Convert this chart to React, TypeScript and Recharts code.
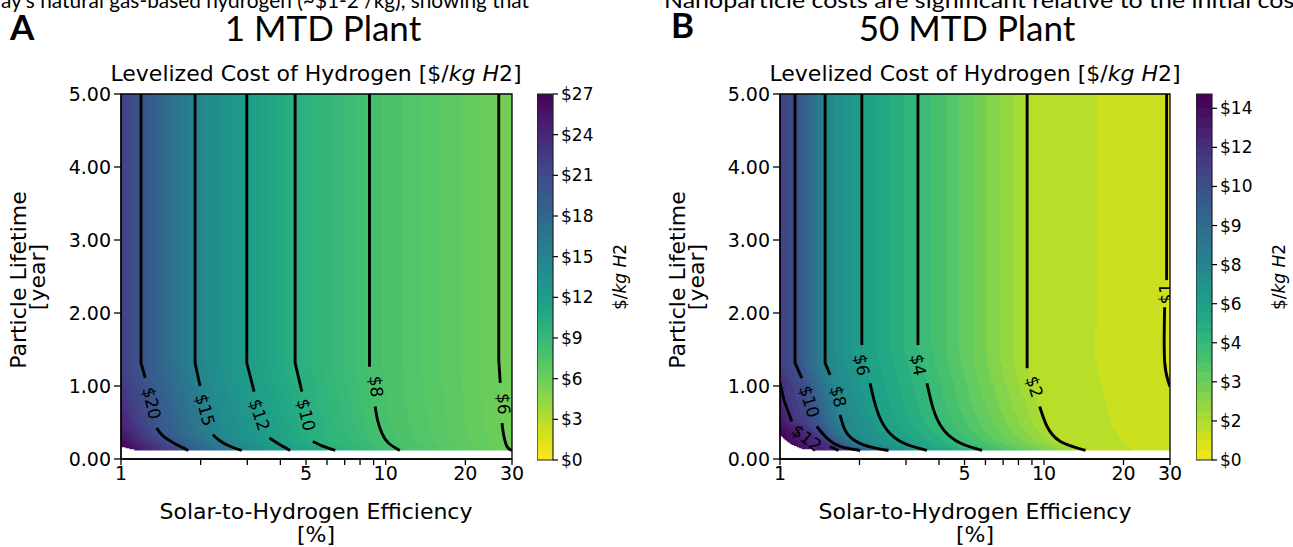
import React from 'react';
import { ComposedChart, XAxis, YAxis, Line, Scatter, ReferenceArea } from 'recharts';

type Pt = { x: number; y: number };
type Contour = { level: number; upper: Pt[]; lower: Pt[] };
type EdgePt = { y: number; v: number };
type ContourLabel = { x: number; y: number; level: number; angle: number };

// shared axes
const xTicks = [1, 2, 3, 4, 5, 6, 7, 8, 9, 10, 20, 30];
const xTickLabels = [1, 5, 10, 20, 30];
const yTicks = [0, 1, 2, 3, 4, 5];

// ---------- panel A : 1 MTD plant ----------
const colorbarTicksA = [0, 3, 6, 9, 12, 15, 18, 21, 24, 27];

const contoursA: Contour[] = [
  { level: 20, upper: [{ x: 1.19, y: 5 }, { x: 1.19, y: 1.316 }, { x: 1.235, y: 1.11 }],
    lower: [{ x: 1.364, y: 0.424 }, { x: 1.425, y: 0.332 }, { x: 1.51, y: 0.264 }, { x: 1.624, y: 0.195 }, { x: 1.797, y: 0.117 }] },
  { level: 15, upper: [{ x: 1.905, y: 5 }, { x: 1.905, y: 1.316 }, { x: 1.989, y: 1.0 }],
    lower: [{ x: 2.222, y: 0.332 }, { x: 2.333, y: 0.264 }, { x: 2.436, y: 0.219 }, { x: 2.62, y: 0.164 }, { x: 2.859, y: 0.117 }] },
  { level: 12, upper: [{ x: 2.987, y: 5 }, { x: 2.987, y: 1.316 }, { x: 3.183, y: 0.923 }],
    lower: [{ x: 3.637, y: 0.287 }, { x: 3.932, y: 0.209 }, { x: 4.355, y: 0.117 }] },
  { level: 10, upper: [{ x: 4.548, y: 5 }, { x: 4.548, y: 1.316 }, { x: 4.822, y: 0.923 }],
    lower: [{ x: 5.306, y: 0.24 }, { x: 5.82, y: 0.172 }, { x: 6.445, y: 0.117 }] },
  { level: 8, upper: [{ x: 8.685, y: 5 }, { x: 8.685, y: 1.265 }],
    lower: [{ x: 9.127, y: 0.719 }, { x: 9.31, y: 0.537 }, { x: 9.674, y: 0.355 }, { x: 10.24, y: 0.219 }, { x: 11.3, y: 0.117 }] },
  { level: 6, upper: [{ x: 26.74, y: 5 }, { x: 26.74, y: 1.356 }, { x: 27.09, y: 1.042 }],
    lower: [{ x: 27.5, y: 0.492 }, { x: 27.89, y: 0.332 }, { x: 28.72, y: 0.172 }, { x: 30, y: 0.117 }] },
];

const labelsA: ContourLabel[] = [
  { x: 1.306, y: 0.765, level: 20, angle: 77 },
  { x: 2.078, y: 0.673, level: 15, angle: 75 },
  { x: 3.334, y: 0.605, level: 12, angle: 72 },
  { x: 5.006, y: 0.605, level: 10, angle: 77 },
  { x: 9.207, y: 0.992, level: 8, angle: 85 },
  { x: 27.89, y: 0.755, level: 6, angle: 88 },
];

const leftEdgeA: EdgePt[] = [
  { y: 0.17, v: 27 }, { y: 0.26, v: 26 }, { y: 0.42, v: 24.8 }, { y: 0.8, v: 23 }, { y: 1.3, v: 22 }, { y: 5, v: 22 },
];
const rightEdgeA: EdgePt[] = [{ y: 0.117, v: 5.97 }, { y: 5, v: 5.85 }];
const bottomEdgeA: Pt[] = [{ x: 1, y: 0.172 }, { x: 1.081, y: 0.137 }, { x: 1.147, y: 0.117 }, { x: 30, y: 0.117 }];

// ---------- panel B : 50 MTD plant ----------
const colorbarLevelsB = [0, 2, 3, 4, 6, 8, 9, 10, 12, 14];
const colorbarTopB = 9.366;

const contoursB: Contour[] = [
  { level: 12, upper: [{ x: 1, y: 1.046 }, { x: 1.035, y: 0.81 }, { x: 1.108, y: 0.514 }],
    lower: [{ x: 1.548, y: 0.172 }, { x: 1.664, y: 0.117 }] },
  { level: 10, upper: [{ x: 1.14, y: 5 }, { x: 1.14, y: 1.316 }, { x: 1.209, y: 1.107 }],
    lower: [{ x: 1.378, y: 0.445 }, { x: 1.504, y: 0.287 }, { x: 1.689, y: 0.172 }, { x: 2.012, y: 0.117 }] },
  { level: 8, upper: [{ x: 1.482, y: 5 }, { x: 1.482, y: 1.316 }, { x: 1.548, y: 1.152 }],
    lower: [{ x: 1.689, y: 0.605 }, { x: 1.791, y: 0.355 }, { x: 2.07, y: 0.195 }, { x: 2.576, y: 0.117 }] },
  { level: 6, upper: [{ x: 2.042, y: 5 }, { x: 2.042, y: 1.561 }],
    lower: [{ x: 2.194, y: 1.038 }, { x: 2.327, y: 0.673 }, { x: 2.54, y: 0.4 }, { x: 2.937, y: 0.219 }, { x: 3.602, y: 0.117 }] },
  { level: 4, upper: [{ x: 3.33, y: 5 }, { x: 3.33, y: 1.561 }],
    lower: [{ x: 3.602, y: 1.038 }, { x: 3.816, y: 0.673 }, { x: 4.165, y: 0.4 }, { x: 4.818, y: 0.219 }, { x: 5.824, y: 0.117 }] },
  { level: 2, upper: [{ x: 8.63, y: 5 }, { x: 8.63, y: 1.243 }],
    lower: [{ x: 9.63, y: 0.719 }, { x: 10.27, y: 0.445 }, { x: 11.54, y: 0.24 }, { x: 14.36, y: 0.117 }] },
  { level: 1, upper: [{ x: 29.13, y: 5 }, { x: 29.13, y: 2.45 }],
    lower: [{ x: 28.63, y: 2.08 }, { x: 28.63, y: 1.33 }, { x: 30, y: 0.99 }] },
];

const labelsB: ContourLabel[] = [
  { x: 1.263, y: 0.287, level: 12, angle: 38 },
  { x: 1.292, y: 0.787, level: 10, angle: 73 },
  { x: 1.664, y: 0.855, level: 8, angle: 76 },
  { x: 2.042, y: 1.288, level: 6, angle: 80 },
  { x: 3.347, y: 1.288, level: 4, angle: 80 },
  { x: 9.2, y: 0.99, level: 2, angle: 72 },
  { x: 29.0, y: 2.265, level: 1, angle: -90 },
];

const leftEdgeB: EdgePt[] = [
  { y: 0.33, v: 14.5 }, { y: 0.5, v: 13.5 }, { y: 0.8, v: 12.6 }, { y: 1.05, v: 12 }, { y: 1.3, v: 11.1 }, { y: 5, v: 11 },
];
const rightEdgeB: EdgePt[] = [
  { y: 0.117, v: 1.12 }, { y: 0.5, v: 1.06 }, { y: 1.0, v: 1.0 }, { y: 1.3, v: 0.97 }, { y: 5, v: 0.97 },
];
const bottomEdgeB: Pt[] = [
  { x: 1, y: 0.33 }, { x: 1.048, y: 0.26 }, { x: 1.104, y: 0.2 }, { x: 1.22, y: 0.133 }, { x: 1.42, y: 0.117 }, { x: 30, y: 0.117 },
];

// ---------- colour helpers ----------
const VIRIDIS = [
  '#440154', '#471365', '#482475', '#463480', '#414487', '#3b528b', '#355f8d', '#2f6c8e', '#2a788e', '#25848e',
  '#21918c', '#1e9c89', '#22a884', '#2fb47c', '#44bf70', '#5ec962', '#7ad151', '#9bd93c', '#bddf26', '#dfe318', '#fde725',
];
const hexRgb = (h: string) => [1, 3, 5].map((i) => parseInt(h.slice(i, i + 2), 16));
function viridis(t: number) {
  const c = Math.max(0, Math.min(1, t)) * (VIRIDIS.length - 1);
  const i = Math.min(Math.floor(c), VIRIDIS.length - 2);
  const f = c - i;
  const a = hexRgb(VIRIDIS[i]);
  const b = hexRgb(VIRIDIS[i + 1]);
  const m = a.map((v, k) => Math.round(v + (b[k] - v) * f));
  return `rgb(${m[0]},${m[1]},${m[2]})`;
}

const STEP_A = 0.3;
const colorA = (v: number) => {
  const k = Math.floor(Math.max(0, v) / STEP_A);
  return viridis(1 - ((k + 0.5) * STEP_A) / 27);
};

const STEP_B = 0.25;
function idxB(v: number) {
  const lv = colorbarLevelsB;
  if (v <= 0) return 0;
  if (v >= lv[lv.length - 1]) return lv.length - 1 + (v - lv[lv.length - 1]) / 2;
  for (let i = 0; i < lv.length - 1; i++) {
    if (v >= lv[i] && v < lv[i + 1]) return i + (v - lv[i]) / (lv[i + 1] - lv[i]);
  }
  return 0;
}
const colorB = (v: number) => {
  const k = Math.max(0, Math.ceil(idxB(v) / STEP_B) - 1);
  return viridis(1 - ((k + 1) * STEP_B) / colorbarTopB);
};

// ---------- field built from the contour lines ----------
const L30 = Math.log10(30);

function edgeAt(edge: EdgePt[], y: number) {
  if (y <= edge[0].y) return edge[0].v;
  for (let i = 0; i < edge.length - 1; i++) {
    const a = edge[i];
    const b = edge[i + 1];
    if (y >= a.y && y <= b.y) return a.v + ((b.v - a.v) * (y - a.y)) / (b.y - a.y);
  }
  return edge[edge.length - 1].v;
}

function crossing(c: Contour, y: number): number | null {
  const pts = [...c.upper, ...c.lower];
  for (let i = 0; i < pts.length - 1; i++) {
    const a = pts[i];
    const b = pts[i + 1];
    const lo = Math.min(a.y, b.y);
    const hi = Math.max(a.y, b.y);
    if (hi > lo && y >= lo && y <= hi) {
      const t = (y - a.y) / (b.y - a.y);
      return Math.log10(a.x) + (Math.log10(b.x) - Math.log10(a.x)) * t;
    }
  }
  return null;
}

type PanelSpec = {
  id: string;
  contours: Contour[];
  labels: ContourLabel[];
  left: EdgePt[];
  right: EdgePt[];
  bottom: Pt[];
  color: (v: number) => string;
  width: number;
  marginRight: number;
};

function valueAt(p: PanelSpec, l: number, y: number) {
  const anchors: { l: number; v: number }[] = [{ l: 0, v: edgeAt(p.left, y) }];
  p.contours.forEach((c) => {
    const cl = crossing(c, y);
    if (cl !== null && cl > 1e-4 && cl < L30 - 1e-4) anchors.push({ l: cl, v: c.level });
  });
  anchors.push({ l: L30, v: edgeAt(p.right, y) });
  anchors.sort((a, b) => a.l - b.l);
  for (let i = 0; i < anchors.length - 1; i++) {
    const a = anchors[i];
    const b = anchors[i + 1];
    if (l >= a.l && l <= b.l) return b.l > a.l ? a.v + ((b.v - a.v) * (l - a.l)) / (b.l - a.l) : a.v;
  }
  return anchors[anchors.length - 1].v;
}

function startLog(bottom: Pt[], y: number) {
  if (y >= bottom[0].y) return 0;
  for (let i = 0; i < bottom.length - 1; i++) {
    const a = bottom[i];
    const b = bottom[i + 1];
    if (y <= a.y && y >= b.y) {
      const t = a.y === b.y ? 0 : (a.y - y) / (a.y - b.y);
      return Math.log10(a.x) + (Math.log10(b.x) - Math.log10(a.x)) * t;
    }
  }
  return Math.log10(bottom[bottom.length - 1].x);
}

type Stop = { o: number; c: string };
type Row = { id: string; x1: number; y1: number; y2: number; stops: Stop[] };

function buildRows(p: PanelSpec): Row[] {
  const rows: Row[] = [];
  let y = p.bottom[p.bottom.length - 1].y;
  let n = 0;
  while (y < 5 - 1e-6) {
    const step = y < 0.5 ? 0.015 : 0.04;
    const top = y < 1.75 ? y + step : 5;
    const yc = top === 5 ? 3.5 : (y + top) / 2;
    const ls = startLog(p.bottom, yc);
    const N = 300;
    const stops: Stop[] = [];
    let prev = '';
    for (let i = 0; i <= N; i++) {
      const l = ls + ((L30 - ls) * i) / N;
      const c = p.color(valueAt(p, l, yc));
      if (i === 0) stops.push({ o: 0, c });
      else if (c !== prev) {
        const o = (i - 0.5) / N;
        stops.push({ o, c: prev }, { o, c });
      }
      prev = c;
    }
    stops.push({ o: 1, c: prev });
    rows.push({ id: `${p.id}-row${n}`, x1: Math.pow(10, ls), y1: y, y2: Math.min(5, top + 0.012), stops });
    y = top;
    n += 1;
  }
  return rows;
}

const panelA: PanelSpec = {
  id: 'pa', contours: contoursA, labels: labelsA, left: leftEdgeA, right: rightEdgeA, bottom: bottomEdgeA,
  color: colorA, width: 640, marginRight: 128,
};
const panelB: PanelSpec = {
  id: 'pb', contours: contoursB, labels: labelsB, left: leftEdgeB, right: rightEdgeB, bottom: bottomEdgeB,
  color: colorB, width: 634, marginRight: 123,
};

const FONT = 'DejaVu Sans, sans-serif';
const tickStyle = { fill: '#000', fontSize: 19, fontFamily: FONT };

const renderContourLabel = (props: any) => {
  const { cx, cy, payload } = props;
  if (cx == null || cy == null) return <g />;
  return (
    <text
      x={cx}
      y={cy}
      transform={`rotate(${payload.angle} ${cx} ${cy})`}
      textAnchor="middle"
      dominantBaseline="central"
      fontSize={17}
      fontFamily={FONT}
      fill="#000"
    >
      {`$${payload.level}`}
    </text>
  );
};

function Panel({ p }: { p: PanelSpec }) {
  const rows = buildRows(p);
  return (
    <ComposedChart width={p.width} height={547} margin={{ top: 94, right: p.marginRight, left: 0, bottom: 0 }}>
      <defs>
        {rows.map((r) => (
          <linearGradient key={r.id} id={r.id} x1="0" y1="0" x2="1" y2="0">
            {r.stops.map((s, i) => (
              <stop key={i} offset={s.o} stopColor={s.c} />
            ))}
          </linearGradient>
        ))}
      </defs>
      <XAxis
        dataKey="x"
        type="number"
        scale="log"
        domain={[1, 30]}
        allowDataOverflow
        ticks={xTicks}
        interval={0}
        tickFormatter={(v: number) => (xTickLabels.includes(v) ? String(v) : '')}
        height={88}
        tickSize={6}
        tickMargin={2}
        tick={tickStyle}
        tickLine={{ stroke: '#000', strokeWidth: 1.3 }}
        axisLine={{ stroke: '#000', strokeWidth: 1.3 }}
      />
      <YAxis
        dataKey="y"
        type="number"
        domain={[0, 5]}
        allowDataOverflow
        ticks={yTicks}
        interval={0}
        width={121}
        tickFormatter={(v: number) => v.toFixed(2)}
        tickSize={7}
        tickMargin={3}
        tick={tickStyle}
        tickLine={{ stroke: '#000', strokeWidth: 1.3 }}
        axisLine={{ stroke: '#000', strokeWidth: 1.3 }}
      />
      {rows.map((r) => (
        <ReferenceArea
          key={r.id}
          x1={r.x1}
          x2={30}
          y1={r.y1}
          y2={r.y2}
          fill={`url(#${r.id})`}
          fillOpacity={1}
          stroke="none"
        />
      ))}
      <ReferenceArea x1={1} x2={30} y1={0} y2={5} fill="none" fillOpacity={0} stroke="#000" strokeWidth={1.3} />
      {p.contours.flatMap((c) =>
        [c.upper, c.lower].map((seg, i) => (
          <Line
            key={`${p.id}-${c.level}-${i}`}
            data={seg}
            dataKey="y"
            type={i === 0 ? 'linear' : 'natural'}
            stroke="#000"
            strokeWidth={2.9}
            dot={false}
            activeDot={false}
            isAnimationActive={false}
          />
        )),
      )}
      <Scatter data={p.labels} dataKey="y" shape={renderContourLabel} isAnimationActive={false} />
    </ComposedChart>
  );
}

type Band = { from: number; to: number; c: string };

function bandsA(): Band[] {
  const out: Band[] = [];
  for (let k = 0; k * STEP_A < 27 - 1e-9; k++) {
    out.push({ from: k * STEP_A, to: Math.min(27, (k + 1) * STEP_A), c: viridis(1 - ((k + 0.5) * STEP_A) / 27) });
  }
  return out;
}
function bandsB(): Band[] {
  const out: Band[] = [];
  for (let k = 0; k * STEP_B < colorbarTopB - 1e-9; k++) {
    out.push({
      from: k * STEP_B,
      to: Math.min(colorbarTopB, (k + 1) * STEP_B),
      c: viridis(1 - ((k + 1) * STEP_B) / colorbarTopB),
    });
  }
  return out;
}

function ColorBar({ id, max, ticks, fmt, bands }: { id: string; max: number; ticks: number[]; fmt: (v: number) => string; bands: Band[] }) {
  return (
    <ComposedChart
      width={96}
      height={547}
      margin={{ top: 94, right: 0, left: 0, bottom: 87 }}
      data={ticks.map((t) => ({ x: 0.5, y: t }))}
    >
      <defs>
        <linearGradient id={id} x1="0" y1="1" x2="0" y2="0">
          {bands.flatMap((b, i) => [
            <stop key={`${i}a`} offset={b.from / max} stopColor={b.c} />,
            <stop key={`${i}b`} offset={b.to / max} stopColor={b.c} />,
          ])}
        </linearGradient>
      </defs>
      <XAxis dataKey="x" type="number" domain={[0, 1]} hide height={0} />
      <YAxis
        dataKey="y"
        type="number"
        orientation="right"
        domain={[0, max]}
        allowDataOverflow
        ticks={ticks}
        interval={0}
        width={80}
        tickFormatter={fmt}
        axisLine={false}
        tickSize={5}
        tickMargin={3}
        tick={{ fill: '#000', fontSize: 17, fontFamily: FONT }}
        tickLine={{ stroke: '#000', strokeWidth: 1.2 }}
      />
      <ReferenceArea x1={0} x2={1} y1={0} y2={max} fill={`url(#${id})`} fillOpacity={1} stroke="none" />
      <ReferenceArea x1={0} x2={1} y1={0} y2={max} fill="none" fillOpacity={0} stroke="#222" strokeWidth={1.2} />
    </ComposedChart>
  );
}

const abs = (left: number): React.CSSProperties => ({ position: 'absolute', left, top: 0 });

export default function App() {
  return (
    <div style={{ position: 'absolute', left: 0, top: 0, width: 1293, height: 547, background: '#fff', overflow: 'hidden' }}>
      <div style={abs(0)}>
        <Panel p={panelA} />
      </div>
      <div style={abs(659)}>
        <Panel p={panelB} />
      </div>
      <div style={abs(537)}>
        <ColorBar id="cbA" max={27} ticks={colorbarTicksA} fmt={(v) => `$${v}`} bands={bandsA()} />
      </div>
      <div style={abs(1196)}>
        <ColorBar
          id="cbB"
          max={colorbarTopB}
          ticks={colorbarLevelsB.map((_, i) => i)}
          fmt={(v) => `$${colorbarLevelsB[v]}`}
          bands={bandsB()}
        />
      </div>
      <svg width={1293} height={547} style={{ position: 'absolute', left: 0, top: 0, pointerEvents: 'none' }}>
        <g fontFamily="Lato, sans-serif" fill="#000">
          <text x={-30} y={8} fontSize={21} textLength={559} lengthAdjust="spacingAndGlyphs">
            today's natural gas-based hydrogen (~$1-2 /kg), showing that
          </text>
          <text x={664} y={8} fontSize={21} textLength={650} lengthAdjust="spacingAndGlyphs">
            Nanoparticle costs are significant relative to the initial costs
          </text>
          <text x={10} y={40} fontSize={35} fontWeight="bold">A</text>
          <text x={671} y={38} fontSize={35} fontWeight="bold">B</text>
          <text x={323} y={41} fontSize={35} textAnchor="middle">1 MTD Plant</text>
          <text x={967} y={41} fontSize={35} textAnchor="middle">50 MTD Plant</text>
        </g>
        {[0, 659].map((dx) => (
          <g key={dx} fontFamily={FONT} fill="#000">
            <text x={316 + dx} y={81} fontSize={22} textAnchor="middle">
              Levelized Cost of Hydrogen [$/<tspan fontStyle="italic">kg H</tspan>2]
            </text>
            <text x={316 + dx} y={519} fontSize={22} textAnchor="middle">Solar-to-Hydrogen Efficiency</text>
            <text x={316 + dx} y={542} fontSize={22} textAnchor="middle">[%]</text>
            <text transform={`translate(${26 + dx},280) rotate(-90)`} fontSize={22} textAnchor="middle">Particle Lifetime</text>
            <text transform={`translate(${45 + dx},277) rotate(-90)`} fontSize={22} textAnchor="middle">[year]</text>
            <text transform={`translate(${626 + dx},277) rotate(-90)`} fontSize={17} textAnchor="middle">
              $/<tspan fontStyle="italic">kg H</tspan>2
            </text>
          </g>
        ))}
      </svg>
    </div>
  );
}
